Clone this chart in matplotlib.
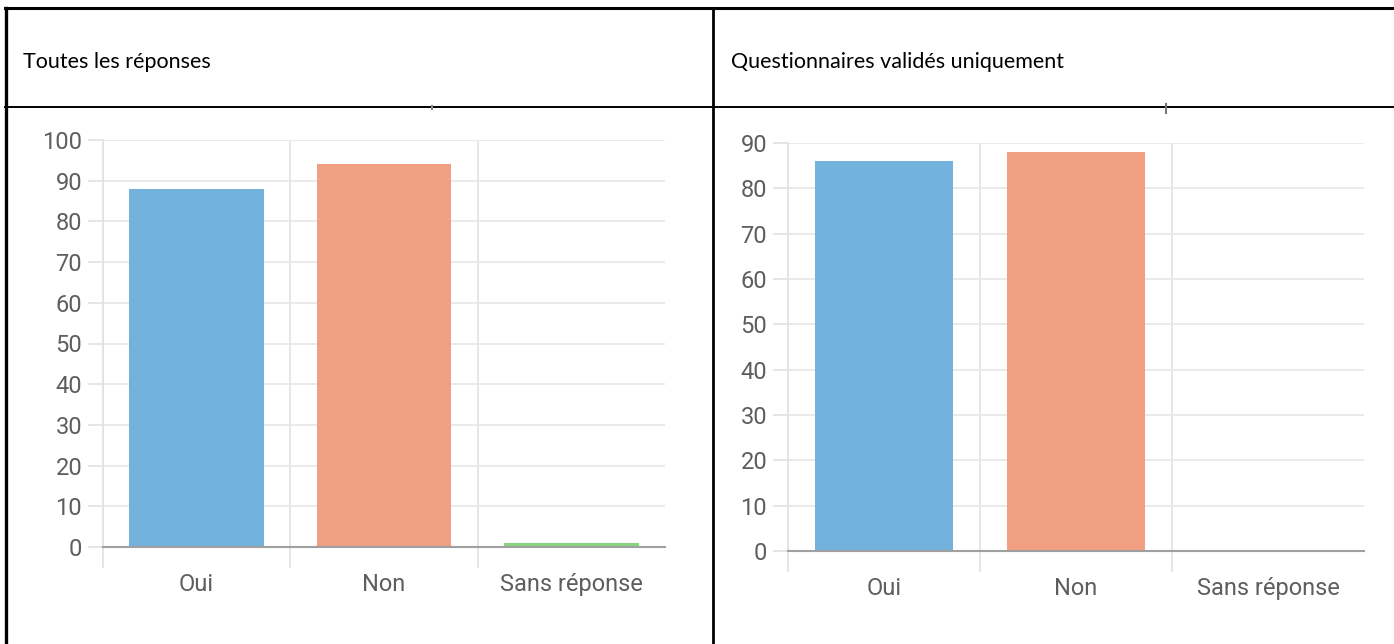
import matplotlib
matplotlib.use('Agg')
import matplotlib.pyplot as plt
from matplotlib.lines import Line2D

# Données
categories = ['Oui', 'Non', 'Sans réponse']
toutes_reponses = [88, 94, 1]
valides_uniquement = [86, 88, 0]
titres = ['Toutes les réponses', 'Questionnaires validés uniquement']
couleurs = ['#72B2DD', '#F09F83', '#86D67C']

W, H = 1394, 644
fig = plt.figure(figsize=(W / 100, H / 100), dpi=100)
fig.patch.set_facecolor('white')

def px(x, y):
    # pixels (depuis le haut) -> coordonnées figure
    return x / W, 1 - y / H

def trait(x0, y0, x1, y1, lw=2.0, color='black'):
    (a, b), (c, d) = px(x0, y0), px(x1, y1)
    fig.add_artist(Line2D([a, c], [b, d], lw=lw, color=color, transform=fig.transFigure))

# Tableau
trait(5, 8, 1392, 8, lw=2.2)
trait(6, 8, 6, 644, lw=2.4)
trait(713, 8, 713, 644, lw=2.0)
trait(5, 107, 1393, 107, lw=1.4)

fig.text(*px(23, 62), titres[0], fontsize=15.5, family='Lato', va='center', ha='left')
fig.text(*px(731, 62), titres[1], fontsize=15.5, family='Lato', va='center', ha='left')

# petits restes des titres coupés
trait(432, 106, 432, 109, lw=1.5, color='#8a8aa0')
trait(1166, 104, 1166, 113, lw=1.5, color='#777777')

def graphique(rect, valeurs, ymax):
    ax = fig.add_axes(rect)
    x = range(len(categories))
    ax.bar(x, valeurs, width=0.72, color=couleurs, zorder=3)
    ax.set_xlim(-0.5, 2.5)
    ax.set_ylim(0, ymax)
    ax.set_yticks(range(0, ymax + 1, 10))
    ax.set_xticks(list(x))
    ax.set_xticklabels(categories)
    ax.set_xticks([-0.5, 0.5, 1.5], minor=True)
    for s in ['top', 'right']:
        ax.spines[s].set_visible(False)
    ax.spines['left'].set_color('#e2e2e2')
    ax.spines['left'].set_linewidth(1.2)
    ax.spines['bottom'].set_color('#a0a0a0')
    ax.spines['bottom'].set_linewidth(1.5)
    ax.spines['bottom'].set_zorder(4)
    ax.grid(axis='y', color='#e6e6e6', lw=1.2, zorder=0)
    ax.grid(axis='x', which='minor', color='#e2e2e2', lw=1.2, zorder=0)
    ax.tick_params(axis='y', length=11, color='#e2e2e2', width=1.2, pad=4,
                   labelsize=17, labelcolor='#5e5e5e')
    ax.tick_params(axis='x', which='major', length=0, pad=19,
                   labelsize=17, labelcolor='#5e5e5e')
    ax.tick_params(axis='x', which='minor', length=15, color='#e2e2e2', width=1.2)
    for t in ax.get_xticklabels() + ax.get_yticklabels():
        t.set_family('Roboto')
    return ax

graphique([103 / W, 97 / H, 562 / W, 407 / H], toutes_reponses, 100)
graphique([788 / W, 93 / H, 576 / W, 408 / H], valides_uniquement, 90)

plt.savefig('out.png', dpi=100)
